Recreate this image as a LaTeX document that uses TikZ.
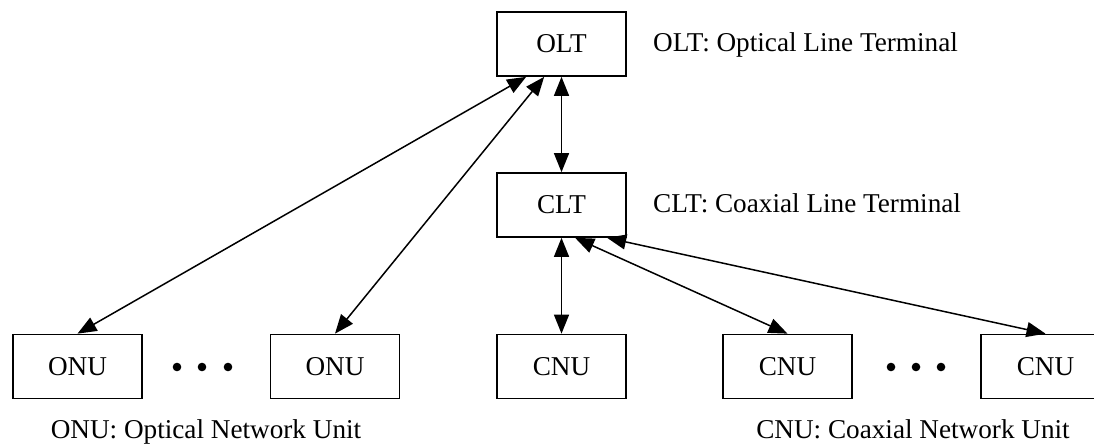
\documentclass[tikz,border=0pt]{standalone}
\usepackage{fontspec}
\setmainfont{Liberation Serif}
\usetikzlibrary{arrows.meta}
\begin{document}
\begin{tikzpicture}[x=1pt,y=-1pt,
  unitbox/.style={draw, line width=1.7pt, minimum width=129pt, minimum height=64pt,
    inner sep=0pt, font=\fontsize{27.2}{31}\selectfont},
  legend/.style={font=\fontsize{27.2}{31}\selectfont, inner sep=0pt},
  link/.style={line width=1.5pt, {Triangle[length=19pt,width=15pt]}-{Triangle[length=19pt,width=15pt]}},
  dot/.style={fill=black}]
\clip (0,0) rectangle (1094,446);
\useasboundingbox (0,0) rectangle (1094,446);

% head-end terminals
\node[unitbox] (olt) at (561.5,44) {OLT};
\node[unitbox] (clt) at (561.5,205) {CLT};

% optical network units
\node[unitbox] (onu1) at (77.5,366.5) {ONU};
\node[unitbox] (onu2) at (335,366.5) {ONU};

% coaxial network units
\node[unitbox] (cnu1) at (561.5,366.5) {CNU};
\node[unitbox] (cnu2) at (787.5,366.5) {CNU};
\node[unitbox] (cnu3) at (1045.5,366.5) {CNU};

% ellipses between units
\foreach \x in {177,202,228,891,916,941}
  \fill[dot] (\x,367) circle (4.3pt);

% legends
\node[legend, anchor=base west] (oltlab) at (653,52) {OLT: Optical Line Terminal};
\node[legend, anchor=base west] (cltlab) at (653,213) {CLT: Coaxial Line Terminal};
\node[legend, anchor=base] (onulab) at (206,438) {ONU: Optical Network Unit};
\node[legend, anchor=base] (cnulab) at (913,438) {CNU: Coaxial Network Unit};

% links
\draw[link] (olt.south) -- (clt.north);
\draw[link] ([xshift=30pt]olt.south west) -- (onu1.north);
\draw[link] ([xshift=48pt]olt.south west) -- (onu2.north);
\draw[link] (clt.south) -- (cnu1.north);
\draw[link] ([xshift=79pt]clt.south west) -- (cnu2.north);
\draw[link] ([xshift=111pt]clt.south west) -- (cnu3.north);
\end{tikzpicture}
\end{document}
